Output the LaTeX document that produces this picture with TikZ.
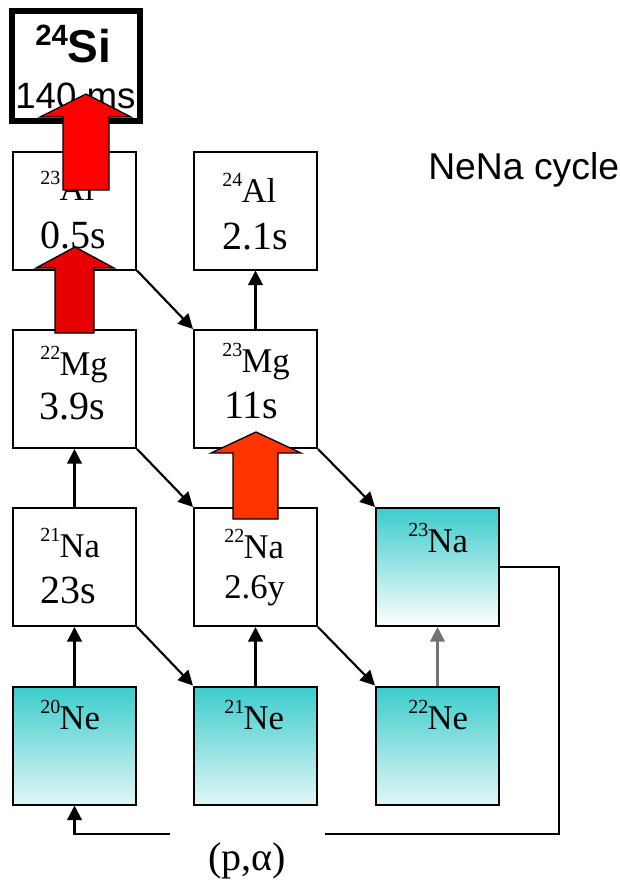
\documentclass[tikz,border=0pt]{standalone}
\usepackage{fontspec}
\setmainfont{Liberation Serif}
\newfontfamily\arialf{Liberation Sans}
\usetikzlibrary{arrows.meta}
\definecolor{tealtop}{HTML}{3CCCCC}
\definecolor{tealbot}{HTML}{E2F6F6}
\definecolor{redA}{HTML}{FF0000}
\definecolor{redB}{HTML}{E60000}
\definecolor{redC}{HTML}{FF3300}
\newcommand{\isoname}[2]{\raisebox{12pt}{\fontsize{15}{15}\selectfont #1}\kern-0.5pt{\fontsize{26}{26}\selectfont #2}}
\newcommand{\halflife}[1]{{\fontsize{30}{30}\selectfont #1}}
\begin{document}
\begin{tikzpicture}[x=0.75pt,y=-0.75pt,
  box/.style={draw=black,line width=1.5pt,minimum width=92.25pt,minimum height=88.5pt,inner sep=0pt,fill=white},
  stable/.style={box,top color=tealtop,bottom color=tealbot},
  stablew/.style={box,top color=tealtop,bottom color=white},
  txt/.style={anchor=base west,inner sep=0pt},
  conn/.style={line width=1.6pt,-{Triangle[length=11pt,width=11pt]}},
  plain/.style={line width=1.6pt},
  bigarrow/.style={draw=black,line width=1pt,line join=miter}]
\useasboundingbox (0,0) rectangle (620,882);
% boxes
\node[box] (al23) at (74.5,210.5) {};
\node[box] (al24) at (255.5,210.5) {};
\node[box] (mg22) at (74.5,389) {};
\node[box] (mg23) at (255.5,389) {};
\node[box] (na21) at (74.5,567) {};
\node[box] (na22) at (255.5,567) {};
\node[stablew] (na23) at (437.5,567) {};
\node[stable] (ne20) at (74.5,745.5) {};
\node[stable] (ne21) at (255.5,745.5) {};
\node[stable] (ne22) at (437.5,745.5) {};
% texts
\node[txt] (t-al23) at (40,200) {\isoname{23}{Al}};
\node[txt] (h-al23) at (40,248) {\halflife{0.5s}};
\node[txt] (t-al24) at (222,202) {\isoname{24}{Al}};
\node[txt] (h-al24) at (222,249) {\halflife{2.1s}};
\node[txt] (t-mg22) at (40,375) {\isoname{22}{Mg}};
\node[txt] (h-mg22) at (39,419) {\halflife{3.9s}};
\node[txt] (t-mg23) at (222,372) {\isoname{23}{Mg}};
\node[txt] (h-mg23) at (224,418) {\halflife{11s}};
\node[txt] (t-na21) at (40,557) {\isoname{21}{Na}};
\node[txt] (h-na21) at (40,603) {\halflife{23s}};
\node[txt] (t-na22) at (224,558) {\isoname{22}{Na}};
\node[txt] (h-na22) at (224,598) {{\fontsize{26}{26}\selectfont 2.6y}};
\node[txt] (t-na23) at (408,552) {\isoname{23}{Na}};
\node[txt] (t-ne20) at (40,729) {\isoname{20}{Ne}};
\node[txt] (t-ne21) at (224,729) {\isoname{21}{Ne}};
\node[txt] (t-ne22) at (408,729) {\isoname{22}{Ne}};
% connectors
\draw[conn] (ne20.north) -- (na21.south);
\draw[conn] (na21.south east) -- (ne21.north west);
\draw[conn] (ne21.north) -- (na22.south);
\draw[conn] (na22.south east) -- (ne22.north west);
\draw[conn,draw=black!55] (ne22.north) -- (na23.south);
\draw[conn] (na21.north) -- (mg22.south);
\draw[conn] (mg22.south east) -- (na22.north west);
\draw[conn] (mg23.south east) -- (na23.north west);
\draw[conn] (mg23.north) -- (al24.south);
\draw[conn] (al23.south east) -- (mg23.north west);
% loop
\coordinate (lr1) at (559,567);
\coordinate (lr2) at (559,834);
\coordinate (lgapR) at (325,834);
\coordinate (lgapL) at (170,834);
\coordinate (ll) at (74.5,834);
\draw[plain,line join=miter] (na23.east) -- (lr1) -- (lr2) -- (lgapR);
\draw[conn,line join=miter] (lgapL) -- (ll) -- (ne20.south);
\node[anchor=base,inner sep=0pt] (pa) at (247,870) {{\fontsize{30}{30}\selectfont (p,α)}};
% Si box
\node[draw=black,line width=4.5pt,minimum width=96pt,minimum height=82.5pt,inner sep=0pt,fill=white] (si24) at (76,66) {};
\node[txt] (t-si24) at (35,62) {\arialf\bfseries\raisebox{12.75pt}{\fontsize{22}{22}\selectfont 24}{\fontsize{34.5}{34.5}\selectfont Si}};
\node[txt] (h-si24) at (15,108) {\arialf\fontsize{27.5}{27.5}\selectfont 140 ms};
\node[txt] (title) at (428,179) {\arialf\fontsize{28}{28}\selectfont NeNa cycle};
% big arrows
\fill[redA,bigarrow] (63,190) -- (63,117) -- (40,117) -- (86,94) -- (131,117) -- (109,117) -- (109,190) -- cycle;
\fill[redB,bigarrow] (55,333) -- (55,268) -- (36,268) -- (75,247) -- (114,268) -- (94,268) -- (94,333) -- cycle;
\fill[redC,bigarrow] (233,519) -- (233,453) -- (211,453) -- (256,432) -- (301,453) -- (278,453) -- (278,519) -- cycle;
\end{tikzpicture}
\end{document}
